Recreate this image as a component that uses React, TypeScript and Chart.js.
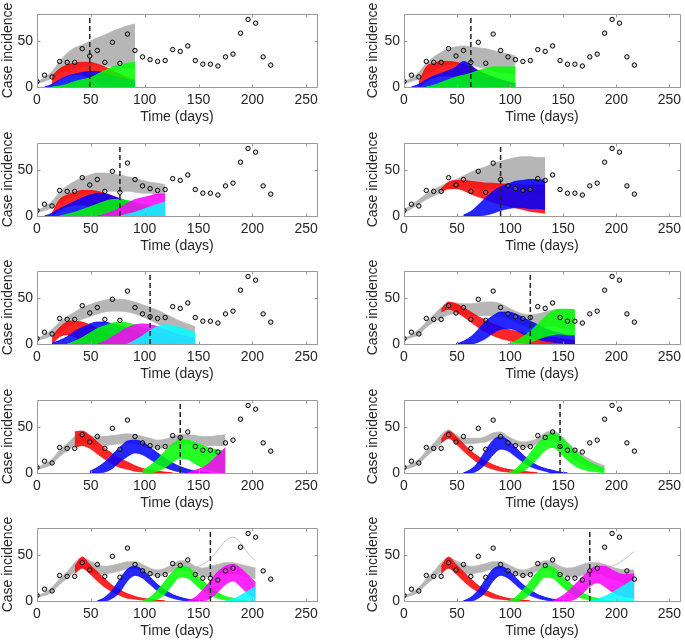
import React, { useEffect, useRef } from "react";
import { Chart, registerables } from "chart.js";

Chart.register(...registerables);

// ---------- data ----------
const DAYS = [0, 7, 14, 21, 28, 35, 42, 49, 56, 63, 70, 77, 84, 91, 98, 105, 112, 119, 126, 133, 140, 147, 154, 161, 168, 175, 182, 189, 196, 203, 210, 217];
const OBSERVED = [6, 13, 11, 28, 27, 27, 42, 34, 40, 27, 49, 26, 58, 40, 33, 30, 28, 29, 41, 39, 45, 29, 25, 25, 23, 33, 36, 59, 74, 70, 33, 24];
const FORECAST_DAY = [49, 63, 77, 91, 105, 119, 133, 147, 161, 175];
const X_TICKS = [0, 50, 100, 150, 200, 250];
const Y_TICKS = [0, 50];
const X_MAX = 260;
const Y_MAX = 80;

// Panel 1 (fit to day 91)
const P1_GRAY_HI = [6, 10, 17, 28, 37, 43, 46, 50, 54, 57, 61, 64, 67, 69];
const P1_GRAY_LO = [4, 6, 10, 14, 18, 20, 22, 23, 23, 23, 22, 22, 21, 20];
const P1_RED_HI = [12, 20, 24, 26, 27, 27, 25, 22, 18, 14, 10, 8];
const P1_RED_LO = [2, 8, 12, 14, 13, 10, 6, 3, 1, 0, 0, 0];
const P1_BLUE_HI = [0, 3, 8, 12, 14, 16, 17, 17, 15, 12, 10, 8, 6];
const P1_GREEN_HI = [0, 1, 3, 6, 8, 10, 14, 18, 22, 24, 26, 27];

// Panel 2 (to day 105)
const P2_GRAY_HI = [6, 10, 16, 26, 33, 38, 42, 44, 45, 44, 43, 42, 40, 38, 36, 34];
const P2_GRAY_LO = [4, 6, 9, 14, 18, 22, 24, 25, 25, 24, 22, 20, 18, 16, 15, 13];
const P2_RED_HI = [5, 22, 26, 28, 28, 27, 25, 22, 18, 14, 10, 7, 5, 3];
const P2_RED_LO = [0, 6, 10, 12, 12, 10, 7, 4, 2, 1, 0, 0, 0, 0];
const P2_BLUE_HI = [0, 3, 8, 12, 15, 18, 22, 28, 24, 17, 14, 11, 8, 6, 4];
const P2_GREEN_HI = [0, 2, 5, 8, 11, 13, 15, 18, 20, 22, 22, 22, 22];

// Panel 3 (to day 119)
const P3_GRAY_HI = [6, 10, 16, 26, 33, 38, 42, 45, 47, 47, 46, 45, 43, 41, 39, 37, 36, 34];
const P3_GRAY_LO = [4, 6, 9, 14, 18, 22, 24, 26, 27, 27, 27, 27, 27, 26, 25, 25, 24, 24];
const P3_RED_HI = [3, 18, 23, 26, 28, 28, 27, 25, 22, 18, 14, 11, 8, 6, 4, 3];
const P3_RED_LO = [0, 6, 10, 12, 12, 10, 7, 4, 2, 0, 0, 0, 0, 0, 0, 0];
const P3_BLUE_HI = [0, 3, 8, 12, 16, 20, 23, 25, 24, 22, 19, 16, 13, 10, 8, 6, 4];
const P3_GREEN_HI = [0, 2, 4, 7, 10, 13, 16, 18, 18, 17, 15, 13, 11, 10, 9];
const P3_MAGENTA_HI = [0, 2, 5, 9, 14, 18, 20, 22, 24, 24];
const P3_CYAN_HI = [0, 2, 4, 7, 10, 13, 15];

// Panel 4 (to day 133)
const P4_GRAY_HI = [7, 12, 18, 24, 29, 33, 37, 40, 44, 48, 51, 54, 57, 60, 62, 64, 65, 65, 64, 64];
const P4_GRAY_LO = [4, 8, 13, 18, 22, 26, 29, 31, 32, 32, 31, 31, 30, 30, 29, 28, 26, 25, 23, 21];
const P4_RED_HI = [30, 37, 39, 39, 38, 37, 36, 36, 35, 35, 35, 34, 34, 34, 34];
const P4_RED_LO = [27, 30, 30, 28, 24, 21, 18, 15, 13, 11, 9, 7, 5, 4, 3];
const P4_BLUE_HI = [1, 5, 12, 20, 27, 32, 35, 38, 39, 40, 40, 39];
const P4_BLUE_LO = [0, 0, 0, 1, 3, 6, 8, 9, 9, 8, 8, 7];

// Panel 5 (to day 147)
const P5_GRAY_HI = [6, 10, 16, 24, 30, 35, 40, 43, 46, 48, 49, 49, 48, 46, 43, 40, 37, 33, 29, 25, 22, 19];
const P5_GRAY_LO = [4, 6, 9, 13, 18, 23, 27, 30, 33, 35, 36, 36, 35, 33, 30, 26, 22, 18, 14, 11, 8, 6];
const P5_RED_HI = [8, 18, 24, 25, 24, 21, 17, 13, 9, 6, 4, 2, 1, 0];
const P5_RED_LO = [0, 8, 10, 8, 4, 1, 0, 0, 0, 0, 0, 0, 0, 0];
const P5_BLUE_HI = [1, 4, 8, 14, 18, 22, 24, 24, 22, 20, 17, 14, 11, 8, 6, 4, 3, 2, 1, 1];
const P5_GREEN_HI = [0, 3, 7, 12, 17, 20, 23, 24, 23, 21, 18, 15, 12, 9, 7, 5, 4, 3];
const P5_MAGENTA_HI = [0, 3, 8, 13, 18, 21, 22, 21, 19, 16, 13, 10, 8, 6];
const P5_CYAN_HI = [0, 4, 9, 15, 19, 21, 20, 18, 15, 12];

// Panel 6 (to day 161)
const P6_GRAY_HI = [6, 10, 16, 24, 32, 40, 45, 45, 44, 44, 45, 46, 46, 44, 40, 36, 33, 32, 33, 35, 37, 38, 38, 38];
const P6_GRAY_LO = [4, 7, 10, 18, 24, 28, 32, 33, 32, 31, 31, 31, 31, 30, 28, 24, 20, 18, 18, 19, 20, 18, 16, 14];
const P6_RED_HI = [38, 46, 44, 40, 35, 30, 26, 22, 19, 16, 14, 12, 10, 9, 8, 7, 6, 5, 4];
const P6_RED_LO = [35, 38, 35, 30, 24, 18, 13, 9, 6, 4, 2, 1, 0, 0, 0, 0, 0, 0, 0];
const P6_BLUE_HI = [0, 3, 8, 16, 25, 31, 35, 35, 33, 29, 25, 21, 17, 14, 12, 10, 9];
const P6_BLUE_LO = [0, 0, 0, 2, 6, 12, 16, 17, 15, 11, 8, 5, 3, 2, 1, 0, 0];
const P6_GREEN_HI = [0, 3, 8, 14, 22, 30, 36, 38, 38, 37];
const P6_GREEN_LO = [0, 0, 0, 2, 5, 8, 10, 11, 10, 10];

// Panel 7 (to day 175)
const P7_GRAY_HI = [6, 10, 15, 25, 32, 40, 44, 41, 40, 40, 41, 42, 43, 42, 40, 38, 36, 37, 40, 42, 42, 41, 40, 40, 41, 42];
const P7_GRAY_LO = [4, 6, 10, 18, 24, 30, 34, 32, 30, 30, 31, 32, 33, 32, 30, 28, 27, 28, 30, 32, 32, 31, 30, 30, 30, 30];
const P7_RED_HI = [45, 46, 41, 34, 27, 21, 16, 12, 8, 5, 3, 2, 1, 0];
const P7_RED_LO = [28, 30, 27, 21, 15, 10, 6, 4, 2, 1, 0, 0, 0, 0];
const P7_BLUE_HI = [2, 6, 12, 20, 28, 35, 36, 34, 28, 22, 16, 11, 7, 4, 2, 1, 0];
const P7_BLUE_LO = [0, 0, 1, 5, 12, 18, 22, 20, 15, 10, 6, 3, 1, 0, 0, 0, 0];
const P7_GREEN_HI = [3, 8, 15, 24, 32, 36, 36, 33, 30, 27, 25, 24];
const P7_GREEN_LO = [0, 0, 2, 6, 12, 16, 15, 10, 6, 3, 1, 0];
const P7_MAGENTA_HI = [0, 3, 6, 12, 20, 28];

// Panel 8 (to day 189)
const P8_GRAY_HI = [6, 10, 15, 24, 32, 42, 47, 42, 38, 38, 38, 40, 44, 45, 40, 36, 34, 35, 38, 44, 46, 42, 34, 26, 20, 15, 11, 8];
const P8_GRAY_LO = [4, 6, 10, 18, 25, 32, 38, 34, 32, 32, 33, 34, 37, 38, 34, 30, 28, 29, 32, 36, 36, 30, 22, 15, 10, 6, 4, 2];
const P8_RED_HI = [37, 46, 40, 32, 24, 18, 13, 9, 6, 4, 3, 2, 1, 0];
const P8_RED_LO = [33, 38, 32, 24, 17, 11, 7, 4, 2, 1, 0, 0, 0, 0];
const P8_BLUE_HI = [0, 4, 12, 25, 36, 40, 36, 28, 20, 13, 8, 5, 3, 1, 0];
const P8_BLUE_LO = [0, 0, 3, 10, 20, 26, 24, 18, 12, 7, 4, 2, 0, 0, 0];
const P8_GREEN_HI = [0, 4, 12, 22, 32, 40, 44, 40, 32, 24, 17, 12, 8, 5];
const P8_GREEN_LO = [0, 0, 2, 8, 16, 25, 28, 22, 14, 8, 4, 2, 1, 0];

// Panel 9 (to day 203)
const P9_GRAY_HI = [6, 9, 15, 24, 32, 42, 48, 44, 40, 38, 39, 41, 43, 43, 40, 36, 34, 36, 40, 44, 43, 38, 36, 38, 40, 42, 42, 40, 38, 36];
const P9_GRAY_LO = [4, 6, 10, 18, 25, 32, 36, 32, 30, 30, 31, 33, 35, 35, 32, 29, 27, 29, 33, 35, 33, 29, 27, 26, 28, 30, 30, 28, 26, 24];
const P9_OUTLIER = [37, 40, 46, 56, 66, 70, 64, 52, 44];
const P9_RED_HI = [38, 48, 40, 32, 24, 17, 12, 8, 5, 3, 2, 1, 0];
const P9_RED_LO = [30, 36, 30, 22, 15, 10, 6, 3, 2, 1, 0, 0, 0];
const P9_BLUE_HI = [0, 4, 12, 24, 35, 38, 34, 26, 18, 12, 7, 4, 2, 1, 0];
const P9_BLUE_LO = [0, 0, 3, 10, 22, 28, 25, 18, 11, 6, 3, 1, 0, 0, 0];
const P9_GREEN_HI = [0, 4, 12, 22, 32, 38, 37, 30, 22, 15, 9, 5, 3, 1, 0];
const P9_GREEN_LO = [0, 0, 2, 8, 18, 26, 25, 18, 11, 6, 3, 1, 0, 0, 0];
const P9_MAGENTA_HI = [0, 4, 12, 22, 32, 38, 40, 36, 28, 20];
const P9_MAGENTA_LO = [0, 0, 0, 3, 10, 18, 22, 16, 8, 3];
const P9_CYAN_HI = [0, 2, 6, 11, 16];

// Panel 10 (to day 217)
const P10_GRAY_HI = [6, 9, 15, 24, 32, 42, 48, 44, 40, 38, 39, 41, 43, 43, 40, 36, 34, 36, 40, 44, 43, 38, 36, 37, 40, 42, 42, 40, 37, 35, 34, 34];
const P10_GRAY_LO = [4, 6, 10, 18, 25, 32, 36, 32, 30, 30, 31, 33, 35, 35, 32, 29, 27, 29, 33, 35, 33, 29, 27, 26, 28, 30, 30, 27, 24, 21, 18, 16];
const P10_OUTLIER = [36, 38, 42, 48, 54];
const P10_RED_HI = [38, 48, 40, 32, 24, 17, 12, 8, 5, 3, 2, 1, 0];
const P10_RED_LO = [30, 36, 30, 22, 15, 10, 6, 3, 2, 1, 0, 0, 0];
const P10_BLUE_HI = [0, 4, 12, 24, 35, 38, 34, 26, 18, 12, 7, 4, 2, 1, 0];
const P10_BLUE_LO = [0, 0, 3, 10, 22, 28, 25, 18, 11, 6, 3, 1, 0, 0, 0];
const P10_GREEN_HI = [0, 4, 12, 22, 32, 38, 37, 30, 22, 15, 9, 5, 3, 1, 0];
const P10_GREEN_LO = [0, 0, 2, 8, 18, 26, 25, 18, 11, 6, 3, 1, 0, 0, 0];
const P10_MAGENTA_HI = [0, 4, 10, 18, 26, 34, 38, 38, 34, 30, 29, 30];
const P10_MAGENTA_LO = [0, 0, 0, 2, 8, 16, 20, 16, 10, 6, 4, 3];
const P10_CYAN_HI = [0, 2, 5, 9, 14, 19, 24];

// ---------- styles ----------
const GRAY = "#b6b6b6";
const RED = "#ff0000";
const BLUE = "#0000ff";
const GREEN = "#00ff00";
const MAGENTA = "#ff00ff";
const CYAN = "#00ffff";
const TEXT = "#262626";
const FRAME = "#9a9a9a";
const FONT = '"Liberation Sans", Arial, Helvetica, sans-serif';
const Y_TITLE = "Case incidence";

type Band = { color: string; start: number; hi: number[]; lo?: number[]; line?: boolean };

const PANELS: Band[][] = [
  [
    { color: GRAY, start: 0, hi: P1_GRAY_HI, lo: P1_GRAY_LO },
    { color: RED, start: 14, hi: P1_RED_HI, lo: P1_RED_LO },
    { color: BLUE, start: 7, hi: P1_BLUE_HI },
    { color: GREEN, start: 14, hi: P1_GREEN_HI },
  ],
  [
    { color: GRAY, start: 0, hi: P2_GRAY_HI, lo: P2_GRAY_LO },
    { color: RED, start: 14, hi: P2_RED_HI, lo: P2_RED_LO },
    { color: BLUE, start: 7, hi: P2_BLUE_HI },
    { color: GREEN, start: 21, hi: P2_GREEN_HI },
  ],
  [
    { color: GRAY, start: 0, hi: P3_GRAY_HI, lo: P3_GRAY_LO },
    { color: RED, start: 14, hi: P3_RED_HI, lo: P3_RED_LO },
    { color: BLUE, start: 7, hi: P3_BLUE_HI },
    { color: GREEN, start: 21, hi: P3_GREEN_HI },
    { color: MAGENTA, start: 56, hi: P3_MAGENTA_HI },
    { color: CYAN, start: 77, hi: P3_CYAN_HI },
  ],
  [
    { color: GRAY, start: 0, hi: P4_GRAY_HI, lo: P4_GRAY_LO },
    { color: RED, start: 35, hi: P4_RED_HI, lo: P4_RED_LO },
    { color: BLUE, start: 56, hi: P4_BLUE_HI, lo: P4_BLUE_LO },
  ],
  [
    { color: GRAY, start: 0, hi: P5_GRAY_HI, lo: P5_GRAY_LO },
    { color: RED, start: 14, hi: P5_RED_HI, lo: P5_RED_LO },
    { color: BLUE, start: 14, hi: P5_BLUE_HI },
    { color: GREEN, start: 28, hi: P5_GREEN_HI },
    { color: MAGENTA, start: 56, hi: P5_MAGENTA_HI },
    { color: CYAN, start: 84, hi: P5_CYAN_HI },
  ],
  [
    { color: GRAY, start: 0, hi: P6_GRAY_HI, lo: P6_GRAY_LO },
    { color: RED, start: 35, hi: P6_RED_HI, lo: P6_RED_LO },
    { color: BLUE, start: 49, hi: P6_BLUE_HI, lo: P6_BLUE_LO },
    { color: GREEN, start: 98, hi: P6_GREEN_HI, lo: P6_GREEN_LO },
  ],
  [
    { color: GRAY, start: 0, hi: P7_GRAY_HI, lo: P7_GRAY_LO },
    { color: RED, start: 35, hi: P7_RED_HI, lo: P7_RED_LO },
    { color: BLUE, start: 49, hi: P7_BLUE_HI, lo: P7_BLUE_LO },
    { color: GREEN, start: 98, hi: P7_GREEN_HI, lo: P7_GREEN_LO },
    { color: MAGENTA, start: 140, hi: P7_MAGENTA_HI },
  ],
  [
    { color: GRAY, start: 0, hi: P8_GRAY_HI, lo: P8_GRAY_LO },
    { color: RED, start: 35, hi: P8_RED_HI, lo: P8_RED_LO },
    { color: BLUE, start: 56, hi: P8_BLUE_HI, lo: P8_BLUE_LO },
    { color: GREEN, start: 98, hi: P8_GREEN_HI, lo: P8_GREEN_LO },
  ],
  [
    { color: GRAY, start: 0, hi: P9_GRAY_HI, lo: P9_GRAY_LO },
    { color: GRAY, start: 147, hi: P9_OUTLIER, line: true },
    { color: RED, start: 35, hi: P9_RED_HI, lo: P9_RED_LO },
    { color: BLUE, start: 56, hi: P9_BLUE_HI, lo: P9_BLUE_LO },
    { color: GREEN, start: 98, hi: P9_GREEN_HI, lo: P9_GREEN_LO },
    { color: MAGENTA, start: 140, hi: P9_MAGENTA_HI, lo: P9_MAGENTA_LO },
    { color: CYAN, start: 175, hi: P9_CYAN_HI },
  ],
  [
    { color: GRAY, start: 0, hi: P10_GRAY_HI, lo: P10_GRAY_LO },
    { color: GRAY, start: 189, hi: P10_OUTLIER, line: true },
    { color: RED, start: 35, hi: P10_RED_HI, lo: P10_RED_LO },
    { color: BLUE, start: 56, hi: P10_BLUE_HI, lo: P10_BLUE_LO },
    { color: GREEN, start: 98, hi: P10_GREEN_HI, lo: P10_GREEN_LO },
    { color: MAGENTA, start: 140, hi: P10_MAGENTA_HI, lo: P10_MAGENTA_LO },
    { color: CYAN, start: 175, hi: P10_CYAN_HI },
  ],
];

function seriesPoints(start: number, values: number[]) {
  const i0 = DAYS.indexOf(start);
  return values.map((v, i) => ({ x: DAYS[i0 + i], y: v }));
}

function withAlpha(hex: string, a: number) {
  const r = parseInt(hex.slice(1, 3), 16);
  const g = parseInt(hex.slice(3, 5), 16);
  const b = parseInt(hex.slice(5, 7), 16);
  return `rgba(${r},${g},${b},${a})`;
}

const framePlugin = {
  id: "matlabFrame",
  afterDraw(chart: any) {
    const { ctx, chartArea: a, scales } = chart;
    ctx.save();
    ctx.strokeStyle = FRAME;
    ctx.lineWidth = 1;
    const l = Math.round(a.left) + 0.5;
    const t = Math.round(a.top) + 0.5;
    const r = Math.round(a.right) + 0.5;
    const b = Math.round(a.bottom) + 0.5;
    ctx.beginPath();
    ctx.rect(l, t, r - l, b - t);
    for (const v of X_TICKS) {
      const px = Math.round(scales.x.getPixelForValue(v)) + 0.5;
      ctx.moveTo(px, b);
      ctx.lineTo(px, b - 3);
      ctx.moveTo(px, t);
      ctx.lineTo(px, t + 3);
    }
    for (const v of Y_TICKS) {
      const py = Math.round(scales.y.getPixelForValue(v)) + 0.5;
      ctx.moveTo(l, py);
      ctx.lineTo(l + 3, py);
      ctx.moveTo(r, py);
      ctx.lineTo(r - 3, py);
    }
    ctx.stroke();
    // y-axis title, centred on the plot, not squeezed to the axis height
    ctx.fillStyle = TEXT;
    ctx.font = `14px ${FONT}`;
    ctx.textAlign = "center";
    ctx.textBaseline = "middle";
    ctx.translate(8.5, (a.top + a.bottom) / 2);
    ctx.rotate(-Math.PI / 2);
    ctx.fillText(Y_TITLE, 0, 0);
    ctx.restore();
  },
};

const LEFT_CANVAS_W = 330;
const RIGHT_CANVAS_W = 320;
const PAD_TOP = 14;
const X_AXIS_H = 41;
const PLOT_H = 73;
const CANVAS_H = PAD_TOP + PLOT_H + X_AXIS_H;

function Panel({ idx }: { idx: number }) {
  const ref = useRef<HTMLCanvasElement | null>(null);
  const col = idx % 2;
  const row = Math.floor(idx / 2);
  const left = col === 0 ? 0 : 365;
  const top = Math.round(14 + 128.5 * row) - PAD_TOP;
  const w = col === 0 ? LEFT_CANVAS_W : RIGHT_CANVAS_W;

  useEffect(() => {
    if (!ref.current) return;
    const yW = col === 0 ? 37 : 39;
    const plotW = col === 0 ? 280 : 279;
    const padR = w - yW - plotW;
    const datasets: any[] = [];
    PANELS[idx].forEach((b, k) => {
      const order = 100 - k;
      if (b.line) {
        datasets.push({
          data: seriesPoints(b.start, b.hi),
          borderColor: b.color,
          borderWidth: 0.8,
          pointRadius: 0,
          fill: false,
          cubicInterpolationMode: "monotone",
          order,
        });
        return;
      }
      const isGray = b.color === GRAY;
      const fillCol = isGray ? b.color : withAlpha(b.color, 0.85);
      if (b.lo) {
        datasets.push({
          data: seriesPoints(b.start, b.lo),
          borderColor: b.color,
          borderWidth: 0.6,
          pointRadius: 0,
          fill: false,
          cubicInterpolationMode: "monotone",
          order,
        });
      }
      datasets.push({
        data: seriesPoints(b.start, b.hi),
        borderColor: b.color,
        borderWidth: 0.8,
        backgroundColor: fillCol,
        pointRadius: 0,
        fill: b.lo ? "-1" : "origin",
        cubicInterpolationMode: "monotone",
        order,
      });
    });
    datasets.push({
      data: [
        { x: FORECAST_DAY[idx], y: 0 },
        { x: FORECAST_DAY[idx], y: Y_MAX },
      ],
      borderColor: "#222222",
      borderWidth: 1.5,
      borderDash: [5, 3],
      pointRadius: 0,
      fill: false,
      order: 2,
    });
    datasets.push({
      data: DAYS.map((d, i) => ({ x: d, y: OBSERVED[i] })),
      showLine: false,
      pointRadius: 2.2,
      pointStyle: "circle",
      pointBorderColor: "#000000",
      pointBackgroundColor: "rgba(170,170,170,0.35)",
      pointBorderWidth: 1,
      order: 0,
    });

    const chart = new Chart(ref.current, {
      type: "line",
      data: { datasets },
      options: {
        animation: false,
        responsive: false,
        events: [],
        layout: { padding: { top: PAD_TOP, right: padR, bottom: 0, left: 0 } },
        plugins: { legend: { display: false }, tooltip: { enabled: false } },
        scales: {
          x: {
            type: "linear",
            min: 0,
            max: X_MAX,
            grid: { display: false, drawTicks: false },
            border: { display: false },
            ticks: { color: TEXT, font: { family: FONT, size: 14 }, padding: 5, maxRotation: 0 },
            title: {
              display: true,
              text: "Time (days)",
              color: TEXT,
              font: { family: FONT, size: 14 },
              padding: { top: 0, bottom: 2 },
            },
            afterBuildTicks: (s: any) => {
              s.ticks = X_TICKS.map((v) => ({ value: v }));
            },
            afterFit: (s: any) => {
              s.height = X_AXIS_H;
              s.paddingLeft = 0;
              s.paddingRight = 0;
            },
          },
          y: {
            type: "linear",
            min: 0,
            max: Y_MAX,
            grid: { display: false, drawTicks: false },
            border: { display: false },
            ticks: { color: TEXT, font: { family: FONT, size: 14 }, padding: 4 },
            title: { display: false },
            afterBuildTicks: (s: any) => {
              s.ticks = Y_TICKS.map((v) => ({ value: v }));
            },
            afterFit: (s: any) => {
              s.width = yW;
              s.paddingTop = 0;
              s.paddingBottom = 0;
            },
          },
        },
      } as any,
      plugins: [framePlugin],
    });
    return () => chart.destroy();
  }, [idx]);

  return (
    <canvas
      ref={ref}
      width={w}
      height={CANVAS_H}
      style={{ position: "absolute", left, top, width: w, height: CANVAS_H }}
    />
  );
}

export default function App() {
  return (
    <div
      style={{
        position: "fixed",
        left: 0,
        top: 0,
        width: 685,
        height: 643,
        overflow: "hidden",
        background: "#ffffff",
      }}
    >
      {PANELS.map((_, i) => (
        <Panel key={i} idx={i} />
      ))}
    </div>
  );
}
